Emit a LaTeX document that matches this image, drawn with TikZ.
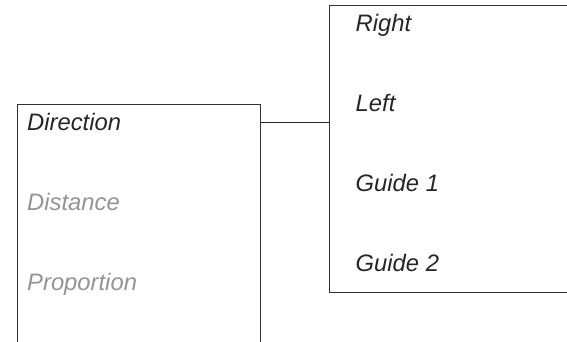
\documentclass[tikz,border=0pt]{standalone}
\usepackage{fontspec}
\setmainfont{Liberation Sans}
\begin{document}
\begin{tikzpicture}[x=1pt,y=1pt,
  box/.style={draw=black!80, line width=1pt, inner sep=0pt},
  lbl/.style={anchor=base west, inner sep=0pt, font=\fontsize{23.8}{27}\selectfont\itshape, text=black!85},
  dim/.style={lbl, text=black!42},
  wire/.style={draw=black!85, line width=1pt}]
\useasboundingbox (0,0) rectangle (567,-342);
\clip (0,0) rectangle (567,-342);
\node[box, minimum width=243, minimum height=260, anchor=north west] (L) at (16.5,-104.5) {};
\node[box, minimum width=271, minimum height=287, anchor=north west] (R) at (329,-5) {};
\node[lbl] (dir) at (27,-130.7) {Direction};
\node[dim] (dis) at (27,-210.7) {Distance};
\node[dim] (pro) at (27,-290.7) {Proportion};
\node[lbl] (ri) at (355.5,-31.7) {Right};
\node[lbl] (le) at (355.5,-111.7) {Left};
\node[lbl] (g1) at (355.5,-191.7) {Guide 1};
\node[lbl] (g2) at (355.5,-271.7) {Guide 2};
\coordinate (j) at (260,-122.7);
\draw[wire] (L.east |- j) -- (R.west |- j);
\end{tikzpicture}
\end{document}
